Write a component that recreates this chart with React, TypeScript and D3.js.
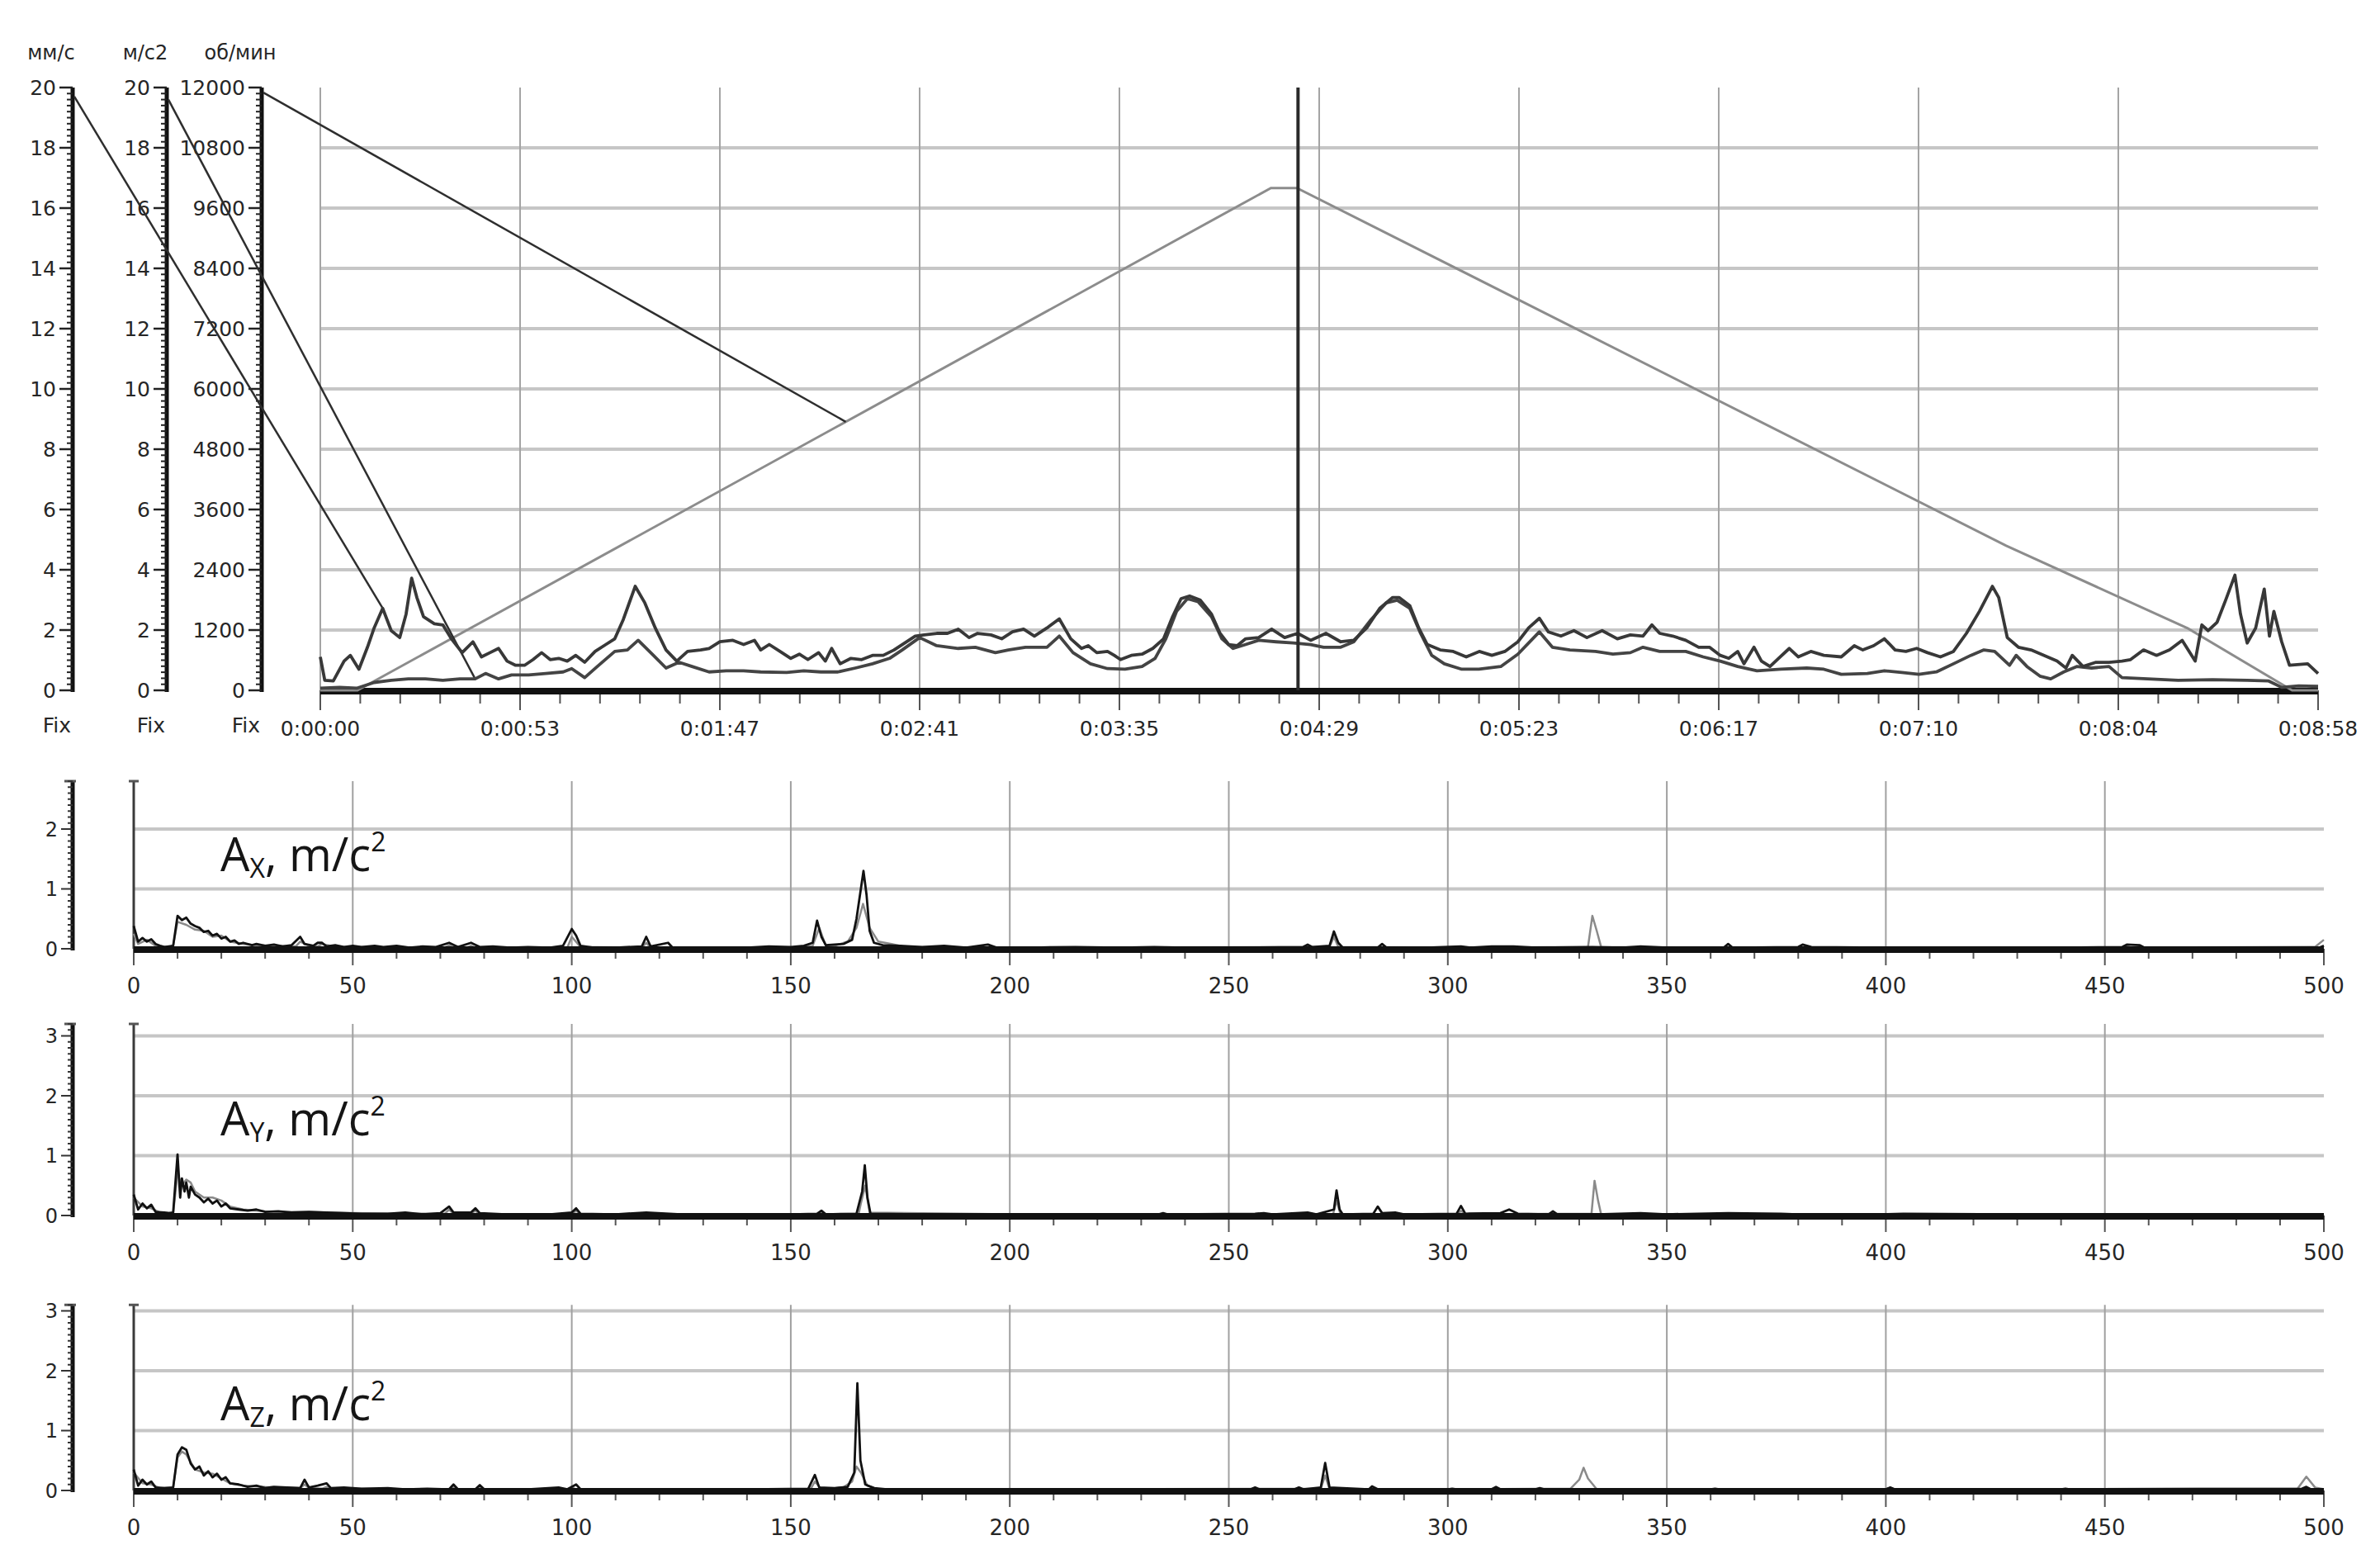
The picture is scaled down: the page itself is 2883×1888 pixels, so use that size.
import React, { useEffect } from 'react';
import * as d3 from 'd3';

type Pt = [number, number];

// ---------------- Top chart (run-down) data ----------------
const unitLabels = ['мм/с', 'м/с2', 'об/мин'];
const velTickLabels = ['0', '2', '4', '6', '8', '10', '12', '14', '16', '18', '20'];
const accTickLabels = ['0', '2', '4', '6', '8', '10', '12', '14', '16', '18', '20'];
const rpmTickLabels = ['0', '1200', '2400', '3600', '4800', '6000', '7200', '8400', '9600', '10800', '12000'];
const timeTickLabels = ['0:00:00', '0:00:53', '0:01:47', '0:02:41', '0:03:35', '0:04:29', '0:05:23', '0:06:17', '0:07:10', '0:08:04', '0:08:58'];
const fixLabel = 'Fix';
const duration = 538;
const cursorTime = 263.3;

// vibration velocity, mm/s  [time s, value]
const vibVelocity: Pt[] = [[0,1.11],[1.2,0.33],[3.5,0.31],[6.4,0.97],[8.1,1.16],[10.4,0.7],[12.7,1.43],[14.5,2.07],[16.8,2.72],[19.1,1.98],[21.4,1.75],[23.1,2.53],[24.6,3.72],[26.0,3.08],[27.8,2.44],[30.7,2.21],[33.0,2.17],[35.3,1.71],[38.2,1.25],[41.1,1.61],[43.4,1.11],[45.7,1.25],[48.0,1.39],[50.3,0.97],[52.6,0.83],[55.0,0.83],[57.3,1.02],[59.6,1.25],[61.9,1.02],[64.2,1.06],[66.5,0.97],[68.8,1.16],[71.2,0.93],[74.0,1.29],[76.9,1.52],[79.3,1.71],[81.6,2.35],[84.8,3.45],[87.4,2.9],[90.2,2.07],[93.1,1.34],[96.0,0.97],[98.9,1.29],[102.4,1.34],[104.7,1.39],[107.6,1.61],[111.1,1.66],[114.0,1.52],[116.9,1.66],[118.6,1.34],[120.9,1.52],[123.8,1.29],[126.7,1.06],[129.0,1.2],[131.3,1.02],[134.2,1.25],[136.0,0.97],[137.7,1.39],[140.0,0.88],[142.9,1.06],[145.8,1.02],[148.7,1.16],[151.6,1.16],[154.5,1.34],[157.4,1.57],[160.2,1.8],[162.6,1.84],[166.0,1.89],[168.9,1.89],[171.8,2.03],[174.7,1.75],[177.0,1.89],[180.6,1.84],[183.5,1.71],[186.4,1.94],[189.4,2.03],[192.3,1.8],[195.7,2.07],[199.0,2.37],[202.1,1.71],[205.0,1.39],[206.8,1.48],[209.1,1.25],[212.0,1.29],[213.8,1.16],[215.5,1.02],[218.4,1.16],[221.3,1.2],[224.2,1.39],[227.1,1.71],[229.5,2.44],[231.8,3.04],[234.1,3.13],[237.0,2.99],[240.0,2.53],[242.3,1.89],[244.6,1.52],[246.9,1.48],[249.2,1.71],[252.7,1.75],[256.2,2.03],[259.7,1.75],[263.2,1.89],[266.7,1.66],[270.8,1.89],[274.8,1.61],[278.3,1.66],[281.8,2.07],[285.3,2.72],[288.8,3.08],[290.5,3.08],[293.4,2.81],[295.8,2.07],[298.1,1.52],[301.6,1.34],[305.1,1.29],[308.6,1.11],[312.1,1.29],[315.5,1.16],[319.0,1.29],[322.5,1.61],[325.4,2.07],[328.3,2.39],[330.7,1.94],[334.1,1.8],[337.6,1.98],[341.1,1.75],[345.2,1.98],[349.3,1.71],[352.8,1.84],[356.2,1.8],[358.6,2.17],[360.7,1.89],[364.2,1.8],[367.7,1.66],[371.2,1.43],[374.1,1.43],[377.0,1.16],[379.3,1.06],[381.7,1.29],[383.4,0.88],[386.1,1.43],[388.1,0.97],[390.4,0.79],[392.7,1.06],[395.6,1.39],[398.0,1.11],[401.4,1.29],[404.9,1.16],[409.6,1.11],[413.1,1.48],[415.4,1.34],[418.3,1.48],[421.2,1.71],[424.1,1.34],[427.0,1.29],[429.9,1.39],[432.8,1.25],[436.3,1.11],[439.8,1.29],[443.3,1.89],[446.8,2.62],[450.3,3.45],[452.0,3.08],[454.3,1.75],[457.3,1.43],[460.7,1.34],[464.2,1.16],[467.7,0.97],[470.1,0.74],[471.8,1.16],[474.7,0.79],[478.2,0.93],[481.7,0.93],[485.2,0.97],[487.5,1.02],[491.0,1.34],[494.5,1.16],[498.0,1.34],[501.4,1.66],[504.9,0.97],[506.7,2.17],[508.4,1.98],[510.8,2.26],[513.1,2.99],[515.6,3.82],[517.1,2.53],[518.9,1.57],[521.2,2.07],[523.5,3.36],[524.9,1.8],[526.1,2.62],[528.2,1.61],[530.3,0.83],[535.2,0.88],[538,0.56]];

// vibration acceleration, m/s2  [time s, value]
const vibAccel: Pt[] = [[0,0.07],[5.2,0.1],[9.8,0.07],[14.5,0.26],[19.1,0.33],[23.7,0.38],[28.3,0.38],[33.0,0.33],[37.6,0.38],[41.7,0.38],[44.5,0.56],[48.0,0.38],[51.5,0.51],[56.1,0.51],[60.7,0.56],[65.4,0.61],[67.7,0.72],[71.2,0.42],[74.6,0.79],[79.3,1.29],[82.7,1.34],[85.6,1.66],[89.7,1.16],[93.1,0.74],[96.6,0.93],[100.1,0.79],[104.7,0.61],[109.3,0.65],[114.0,0.65],[118.6,0.61],[125.6,0.59],[130.2,0.65],[134.8,0.61],[139.4,0.61],[144.1,0.74],[148.7,0.88],[153.3,1.06],[156.7,1.34],[161.4,1.75],[166.0,1.48],[171.8,1.39],[176.4,1.43],[181.8,1.25],[185.3,1.34],[189.9,1.43],[195.7,1.43],[199.0,1.8],[202.7,1.25],[207.4,0.88],[212.0,0.72],[216.7,0.7],[221.3,0.79],[224.8,1.06],[227.7,1.71],[230.6,2.62],[233.5,3.04],[236.4,2.94],[240.0,2.44],[242.8,1.71],[245.8,1.39],[249.2,1.52],[252.7,1.66],[257.4,1.61],[262.0,1.57],[266.7,1.52],[270.2,1.43],[274.8,1.43],[278.3,1.61],[283.0,2.35],[287.0,2.9],[290.0,2.99],[293.4,2.72],[296.3,1.89],[299.3,1.16],[302.7,0.88],[307.4,0.7],[312.0,0.7],[317.9,0.79],[322.5,1.2],[328.3,1.94],[331.8,1.43],[336.5,1.34],[343.4,1.29],[348.1,1.2],[352.8,1.25],[356.2,1.43],[360.7,1.29],[363.1,1.29],[367.7,1.29],[372.4,1.11],[377.0,0.97],[381.7,0.79],[386.9,0.65],[393.3,0.7],[400.3,0.74],[404.9,0.7],[409.6,0.53],[416.6,0.56],[421.2,0.65],[425.9,0.59],[430.5,0.53],[435.2,0.61],[439.8,0.88],[444.5,1.16],[448.0,1.34],[450.9,1.29],[454.9,0.83],[456.7,1.16],[459.6,0.79],[463.1,0.47],[466.0,0.38],[469.5,0.61],[473.0,0.79],[477.0,0.74],[481.7,0.79],[485.2,0.42],[492.1,0.38],[500.3,0.33],[509.6,0.35],[518.9,0.33],[524.7,0.31],[528.2,0.1],[532.8,0.15],[538,0.13]];

// shaft speed, rpm  [time s, value]
const rpmSeries: Pt[] = [[0,0],[10,0],[256,10000],[263,10000],[454,2880],[503,1230],[531,0],[538,0]];

// connector lines (axis top -> first plotted point of each trace): [start value on axis, time of end point]
const connVelocity: Pt = [19.7, 16.8];
const connAccel: Pt = [19.6, 41.7];
const connRpm: Pt = [11900, 141.5];

// ---------------- Spectra data [Hz, m/s2] ----------------
const freqTickLabels = ['0', '50', '100', '150', '200', '250', '300', '350', '400', '450', '500'];

const axBlack: Pt[] = [[0,0.38],[1,0.12],[2,0.18],[3,0.12],[4,0.16],[5,0.08],[6,0.05],[7,0.03],[8,0.04],[9,0.05],[10,0.55],[11,0.48],[12,0.52],[13,0.42],[14,0.38],[15,0.35],[16,0.28],[17,0.3],[18,0.22],[19,0.25],[20,0.17],[21,0.2],[22,0.12],[23,0.14],[24,0.08],[25,0.1],[27,0.06],[28,0.08],[30,0.05],[32,0.07],[34,0.04],[36,0.06],[38,0.2],[39,0.08],[41,0.05],[42,0.1],[43,0.1],[44,0.04],[46,0.06],[48,0.03],[50,0.05],[52,0.03],[55,0.05],[57,0.03],[60,0.05],[63,0.02],[66,0.04],[69,0.03],[72,0.1],[74,0.03],[77,0.1],[79,0.03],[82,0.04],[86,0.02],[90,0.03],[95,0.02],[98,0.05],[100,0.33],[101,0.22],[102,0.05],[105,0.02],[110,0.02],[116,0.04],[117,0.2],[118,0.04],[122,0.1],[123,0.02],[130,0.02],[140,0.02],[145,0.04],[150,0.03],[153,0.05],[155,0.1],[156,0.47],[157,0.2],[158,0.06],[162,0.08],[164,0.15],[165,0.5],[166,1.0],[166.6,1.3],[167.3,0.9],[168,0.3],[169,0.1],[171,0.06],[175,0.05],[180,0.03],[185,0.05],[190,0.02],[195,0.07],[197,0.02],[205,0.02],[215,0.03],[225,0.02],[233,0.03],[240,0.02],[255,0.02],[267,0.03],[268,0.07],[269,0.03],[273,0.05],[274,0.29],[275,0.1],[276,0.02],[284,0.02],[285,0.08],[286,0.02],[295,0.02],[303,0.04],[305,0.02],[310,0.04],[315,0.04],[320,0.02],[333,0.03],[340,0.02],[344,0.04],[350,0.02],[363,0.02],[364,0.08],[365,0.02],[380,0.03],[381,0.07],[383,0.03],[400,0.02],[420,0.02],[440,0.02],[454,0.03],[455,0.07],[458,0.06],[459,0.02],[480,0.02],[499,0.02],[500,0.05]];
const axGray: Pt[] = [[0,0.25],[1,0.08],[3,0.15],[5,0.05],[8,0.03],[9,0.05],[10,0.45],[12,0.4],[14,0.32],[16,0.3],[18,0.2],[20,0.22],[22,0.12],[25,0.08],[28,0.06],[32,0.05],[37,0.04],[38,0.12],[40,0.05],[42,0.04],[43,0.08],[46,0.03],[50,0.03],[60,0.02],[71,0.02],[72,0.06],[73,0.02],[76,0.02],[77,0.05],[78,0.02],[90,0.02],[99,0.02],[100,0.2],[102,0.03],[116,0.02],[117,0.1],[118,0.02],[150,0.02],[155,0.05],[156.5,0.35],[158,0.05],[160,0.05],[163,0.12],[165,0.35],[166.5,0.75],[168,0.35],[170,0.12],[173,0.08],[176,0.03],[200,0.02],[273,0.03],[274,0.2],[275,0.03],[300,0.02],[332,0.03],[333,0.55],[334,0.3],[335,0.03],[360,0.02],[400,0.02],[454,0.02],[455,0.04],[456,0.02],[498,0.03],[500,0.15]];

const ayBlack: Pt[] = [[0,0.35],[1,0.1],[2,0.2],[3,0.12],[4,0.18],[5,0.06],[7,0.05],[8,0.04],[9,0.05],[10,1.02],[10.6,0.3],[11,0.62],[11.6,0.4],[12,0.55],[12.6,0.3],[13,0.48],[14,0.35],[15,0.3],[16,0.22],[17,0.28],[18,0.2],[19,0.25],[20,0.15],[21,0.2],[22,0.12],[24,0.1],[26,0.08],[28,0.1],[30,0.06],[33,0.07],[36,0.05],[40,0.06],[44,0.05],[48,0.04],[52,0.03],[58,0.03],[62,0.05],[66,0.02],[70,0.04],[72,0.15],[73,0.05],[77,0.05],[78,0.12],[79,0.04],[85,0.02],[95,0.02],[100,0.05],[101,0.12],[102,0.03],[110,0.02],[117,0.05],[125,0.02],[140,0.02],[150,0.02],[156,0.03],[157,0.08],[158,0.02],[165,0.03],[166.3,0.4],[166.9,0.84],[167.5,0.3],[168.2,0.03],[180,0.02],[200,0.02],[234,0.02],[235,0.04],[236,0.02],[256,0.03],[258,0.04],[260,0.02],[268,0.05],[270,0.02],[274,0.1],[274.6,0.42],[275.3,0.1],[276,0.02],[283,0.03],[284,0.15],[285,0.04],[288,0.05],[290,0.02],[302,0.03],[303,0.16],[304,0.03],[312,0.04],[314,0.1],[316,0.03],[323,0.02],[324,0.07],[325,0.02],[334,0.02],[344,0.04],[350,0.02],[364,0.04],[376,0.03],[380,0.02],[400,0.02],[404,0.03],[430,0.02],[460,0.02],[500,0.02]];
const ayGray: Pt[] = [[0,0.3],[2,0.15],[4,0.12],[6,0.05],[9,0.04],[10,0.7],[11,0.5],[12,0.6],[13,0.55],[14,0.4],[16,0.3],[18,0.3],[20,0.25],[22,0.15],[25,0.1],[30,0.07],[35,0.06],[40,0.06],[45,0.05],[50,0.04],[60,0.03],[71,0.03],[72,0.1],[73,0.03],[77,0.03],[78,0.08],[79,0.02],[90,0.02],[100,0.02],[101,0.08],[102,0.02],[120,0.02],[156,0.02],[157,0.06],[158,0.02],[165.5,0.03],[166,0.2],[167,0.5],[168,0.05],[200,0.02],[273.8,0.02],[274.6,0.25],[275.5,0.02],[300,0.02],[302.3,0.02],[303,0.08],[304,0.02],[332.8,0.03],[333.5,0.58],[334.3,0.25],[335,0.02],[360,0.02],[420,0.02],[500,0.02]];

const azBlack: Pt[] = [[0,0.35],[1,0.08],[2,0.18],[3,0.1],[4,0.15],[5,0.05],[7,0.04],[9,0.05],[10,0.6],[11,0.72],[12,0.68],[13,0.45],[14,0.35],[15,0.4],[16,0.25],[17,0.32],[18,0.22],[19,0.28],[20,0.18],[21,0.22],[22,0.12],[24,0.1],[26,0.06],[28,0.08],[30,0.04],[32,0.06],[35,0.05],[38,0.04],[39,0.18],[40,0.05],[42,0.08],[44,0.12],[45,0.04],[48,0.05],[52,0.03],[58,0.04],[62,0.02],[67,0.03],[72,0.02],[73,0.1],[74,0.02],[78,0.02],[79,0.09],[80,0.02],[90,0.02],[97,0.05],[99,0.02],[101,0.1],[102,0.02],[118,0.02],[140,0.02],[154,0.03],[155.5,0.26],[156.5,0.05],[160,0.04],[163,0.06],[164.5,0.3],[165.2,1.79],[165.9,0.5],[167,0.1],[169,0.04],[172,0.02],[200,0.02],[233,0.02],[255,0.02],[256,0.05],[257,0.02],[265,0.02],[266,0.05],[267,0.02],[271,0.05],[272,0.46],[273,0.05],[282,0.02],[282.7,0.07],[284,0.02],[300,0.02],[301,0.03],[302,0.02],[310,0.02],[311,0.06],[312,0.02],[320,0.02],[321,0.04],[322,0.02],[360,0.02],[361,0.03],[362,0.02],[400,0.02],[401,0.05],[402,0.02],[440,0.02],[441,0.03],[442,0.02],[495,0.03],[496,0.06],[497,0.02],[500,0.02]];
const azGray: Pt[] = [[0,0.3],[2,0.12],[4,0.1],[6,0.04],[9,0.05],[10,0.55],[11,0.65],[12,0.6],[14,0.35],[16,0.3],[18,0.28],[20,0.2],[22,0.12],[25,0.08],[30,0.06],[35,0.05],[38,0.04],[39,0.1],[40,0.04],[43,0.03],[44,0.06],[45,0.03],[50,0.03],[60,0.02],[72,0.02],[73,0.05],[74,0.02],[78,0.02],[79,0.04],[80,0.02],[99,0.02],[100,0.05],[101,0.02],[120,0.02],[154.5,0.02],[155.5,0.15],[157,0.02],[162,0.05],[164,0.15],[165,0.4],[166,0.3],[167.5,0.08],[170,0.02],[200,0.02],[271,0.03],[272,0.25],[273,0.02],[300,0.02],[328,0.03],[330,0.18],[331,0.38],[332,0.2],[334,0.02],[400,0.02],[401,0.04],[402,0.02],[494,0.03],[496,0.23],[498,0.05],[500,0.02]];

const spectrumAxes = ['X', 'Y', 'Z'];
const spectrumYLabels = [['0', '1', '2'], ['0', '1', '2', '3'], ['0', '1', '2', '3']];
const spectrumYMax = [2.8, 3.2, 3.1];

// ---------------- layout ----------------
const W = 2883, H = 1888;
const TOP = { x0: 388, x1: 2808, yTop: 106, yBot: 836 };
const AXIS_X = [88, 202, 317];
const SPEC = { x0: 162, x1: 2815, unit: 72.5, base: [1149, 1472, 1805], label: [1055, 1375, 1720] };
const SMALL_FONT = '"DejaVu Sans", Verdana, sans-serif';
const TXT = '#262626';

function valueAt(series: Pt[], t: number): number {
  const i = d3.bisector((d: Pt) => d[0]).left(series, t);
  if (i <= 0) return series[0][1];
  if (i >= series.length) return series[series.length - 1][1];
  const a = series[i - 1], b = series[i];
  if (b[0] === t) return b[1];
  return a[1] + (b[1] - a[1]) * (t - a[0]) / (b[0] - a[0]);
}

export default function App() {
  useEffect(() => { document.body.style.margin = '0'; }, []);

  const xT = d3.scaleLinear().domain([0, duration]).range([TOP.x0, TOP.x1]);
  const yV = d3.scaleLinear().domain([0, 20]).range([TOP.yBot, TOP.yTop]);
  const yR = d3.scaleLinear().domain([0, 12000]).range([TOP.yBot, TOP.yTop]);
  const timeTicks = d3.range(0, timeTickLabels.length).map(i => i * duration / (timeTickLabels.length - 1));
  const minorTimeTicks = d3.range(0, 51).map(i => i * duration / 50);

  const lineV = d3.line<Pt>().x(d => xT(d[0])).y(d => yV(d[1]));
  const lineR = d3.line<Pt>().x(d => xT(d[0])).y(d => yR(d[1]));

  const leftAxes = [
    { x: AXIS_X[0], scale: yV, labels: velTickLabels, max: 20, unit: unitLabels[0] },
    { x: AXIS_X[1], scale: yV, labels: accTickLabels, max: 20, unit: unitLabels[1] },
    { x: AXIS_X[2], scale: yR, labels: rpmTickLabels, max: 12000, unit: unitLabels[2] },
  ];

  const connectors = [
    { x1: AXIS_X[0] + 2, y1: yV(connVelocity[0]), x2: xT(connVelocity[1]), y2: yV(valueAt(vibVelocity, connVelocity[1])) },
    { x1: AXIS_X[1] + 2, y1: yV(connAccel[0]), x2: xT(connAccel[1]), y2: yV(valueAt(vibAccel, connAccel[1])) },
    { x1: AXIS_X[2] + 2, y1: yR(connRpm[0]), x2: xT(connRpm[1]), y2: yR(valueAt(rpmSeries, connRpm[1])) },
  ];

  const xF = d3.scaleLinear().domain([0, 500]).range([SPEC.x0, SPEC.x1]);
  const freqTicks = freqTickLabels.map(Number);
  const minorFreq = d3.range(0, 51).map(i => i * 10);
  const spectra = [
    { black: axBlack, gray: axGray },
    { black: ayBlack, gray: ayGray },
    { black: azBlack, gray: azGray },
  ];

  return (
    <svg width={W} height={H} viewBox={`0 0 ${W} ${H}`} style={{ position: 'absolute', left: 0, top: 0, background: '#fff' }}>
      <rect x={0} y={0} width={W} height={H} fill="#fff" />

      {/* ---------- TOP CHART ---------- */}
      {d3.range(1, 10).map(i => (
        <line key={'hg' + i} x1={TOP.x0} x2={TOP.x1} y1={yV(i * 2)} y2={yV(i * 2)} stroke="#c6c6c6" strokeWidth={4} />
      ))}
      {timeTicks.slice(0, -1).map((t, i) => (
        <line key={'vg' + i} x1={xT(t)} x2={xT(t)} y1={TOP.yTop} y2={TOP.yBot} stroke="#a4a4a4" strokeWidth={2} />
      ))}

      {/* time axis */}
      {minorTimeTicks.map((t, i) => (
        <line key={'mt' + i} x1={xT(t)} x2={xT(t)} y1={TOP.yBot} y2={TOP.yBot + (i % 5 === 0 ? 24 : 16)} stroke="#555" strokeWidth={2} />
      ))}
      <line x1={TOP.x0} x2={TOP.x1} y1={TOP.yBot + 1} y2={TOP.yBot + 1} stroke="#111" strokeWidth={8} />
      {timeTicks.map((t, i) => (
        <text key={'tl' + i} x={xT(t)} y={TOP.yBot + 55} textAnchor="middle" fontFamily={SMALL_FONT} fontSize={25} fill={TXT}>{timeTickLabels[i]}</text>
      ))}

      {/* left axes */}
      {leftAxes.map((ax, k) => (
        <g key={'la' + k}>
          <line x1={ax.x} x2={ax.x} y1={TOP.yTop} y2={TOP.yBot + 2} stroke="#111" strokeWidth={5} />
          {d3.range(0, 101).map(i => {
            const v = i * ax.max / 100;
            const major = i % 10 === 0;
            return <line key={i} x1={ax.x - (major ? 16 : 7)} x2={ax.x} y1={ax.scale(v)} y2={ax.scale(v)} stroke="#222" strokeWidth={major ? 2.5 : 2} />;
          })}
          {ax.labels.map((lab, i) => (
            <text key={'l' + i} x={ax.x - 20} y={ax.scale(i * ax.max / 10)} dy="0.36em" textAnchor="end" fontFamily={SMALL_FONT} fontSize={25} fill={TXT}>{lab}</text>
          ))}
          <text x={ax.x - 26} y={72} textAnchor="middle" fontFamily={SMALL_FONT} fontSize={24} fill={TXT}>{ax.unit}</text>
          <text x={ax.x - 2} y={887} textAnchor="end" fontFamily={SMALL_FONT} fontSize={25} fill={TXT}>{fixLabel}</text>
        </g>
      ))}

      {/* series */}
      <path d={lineR(rpmSeries) || ''} fill="none" stroke="#8c8c8c" strokeWidth={3} />
      {connectors.map((c, i) => (
        <line key={'cn' + i} x1={c.x1} y1={c.y1} x2={c.x2} y2={c.y2} stroke="#2e2e2e" strokeWidth={2.5} />
      ))}
      <path d={lineV(vibAccel) || ''} fill="none" stroke="#444" strokeWidth={3.8} strokeLinejoin="round" />
      <path d={lineV(vibVelocity) || ''} fill="none" stroke="#383838" strokeWidth={3.8} strokeLinejoin="round" />
      <line x1={xT(cursorTime)} x2={xT(cursorTime)} y1={TOP.yTop} y2={TOP.yBot} stroke="#2a2a2a" strokeWidth={4} />

      {/* ---------- SPECTRA ---------- */}
      {spectra.map((sp, k) => {
        const base = SPEC.base[k];
        const yMax = spectrumYMax[k];
        const yS = d3.scaleLinear().domain([0, yMax]).range([base, base - yMax * SPEC.unit]);
        const topY = yS(yMax);
        const line = d3.line<Pt>().x(d => xF(d[0])).y(d => yS(d[1]));
        const labels = spectrumYLabels[k];
        return (
          <g key={'sp' + k}>
            {labels.slice(1).map((lab, i) => (
              <line key={'h' + i} x1={SPEC.x0} x2={SPEC.x1} y1={yS(+lab)} y2={yS(+lab)} stroke="#c6c6c6" strokeWidth={4} />
            ))}
            {freqTicks.slice(1, -1).map((f, i) => (
              <line key={'v' + i} x1={xF(f)} x2={xF(f)} y1={topY} y2={base} stroke="#a0a0a0" strokeWidth={2} />
            ))}
            <line x1={xF(0)} x2={xF(0)} y1={topY} y2={base} stroke="#3a3a3a" strokeWidth={3} />
            <line x1={xF(0) - 6} x2={xF(0) + 6} y1={topY} y2={topY} stroke="#555" strokeWidth={3} />

            {minorFreq.map((f, i) => (
              <line key={'mf' + i} x1={xF(f)} x2={xF(f)} y1={base} y2={base + (i % 5 === 0 ? 20 : 12)} stroke="#555" strokeWidth={2} />
            ))}
            <path d={line(sp.gray) || ''} fill="none" stroke="#8a8a8a" strokeWidth={2.5} strokeLinejoin="round" />
            <path d={line(sp.black) || ''} fill="none" stroke="#111" strokeWidth={2.8} strokeLinejoin="round" />
            <line x1={SPEC.x0} x2={SPEC.x1} y1={base + 1} y2={base + 1} stroke="#111" strokeWidth={8} />
            {freqTicks.map((f, i) => (
              <text key={'fl' + i} x={xF(f)} y={base + 54} textAnchor="middle" fontFamily={SMALL_FONT} fontSize={26} fill={TXT}>{freqTickLabels[i]}</text>
            ))}

            {/* y axis */}
            <line x1={AXIS_X[0]} x2={AXIS_X[0]} y1={topY} y2={base + 2} stroke="#111" strokeWidth={5} />
            <line x1={AXIS_X[0] - 10} x2={AXIS_X[0] + 4} y1={topY} y2={topY} stroke="#555" strokeWidth={3} />
            {d3.range(0, Math.floor(yMax * 10) + 1).map(i => {
              const major = i % 10 === 0;
              return <line key={'yt' + i} x1={AXIS_X[0] - (major ? 14 : 6)} x2={AXIS_X[0]} y1={yS(i / 10)} y2={yS(i / 10)} stroke="#333" strokeWidth={2} />;
            })}
            {labels.map((lab, i) => (
              <text key={'yl' + i} x={AXIS_X[0] - 18} y={yS(+lab)} dy="0.36em" textAnchor="end" fontFamily={SMALL_FONT} fontSize={24} fill={TXT}>{lab}</text>
            ))}

            {/* panel title */}
            <text x={267} y={SPEC.label[k]} fontFamily='"Open Sans", "Noto Sans", sans-serif' fontSize={56} fill="#151515">
              <tspan>A</tspan>
              <tspan fontSize={32} dy={8}>{spectrumAxes[k]}</tspan>
              <tspan dy={-8}>, m/c</tspan>
              <tspan fontSize={32} dy={-24}>2</tspan>
            </text>
          </g>
        );
      })}
    </svg>
  );
}
